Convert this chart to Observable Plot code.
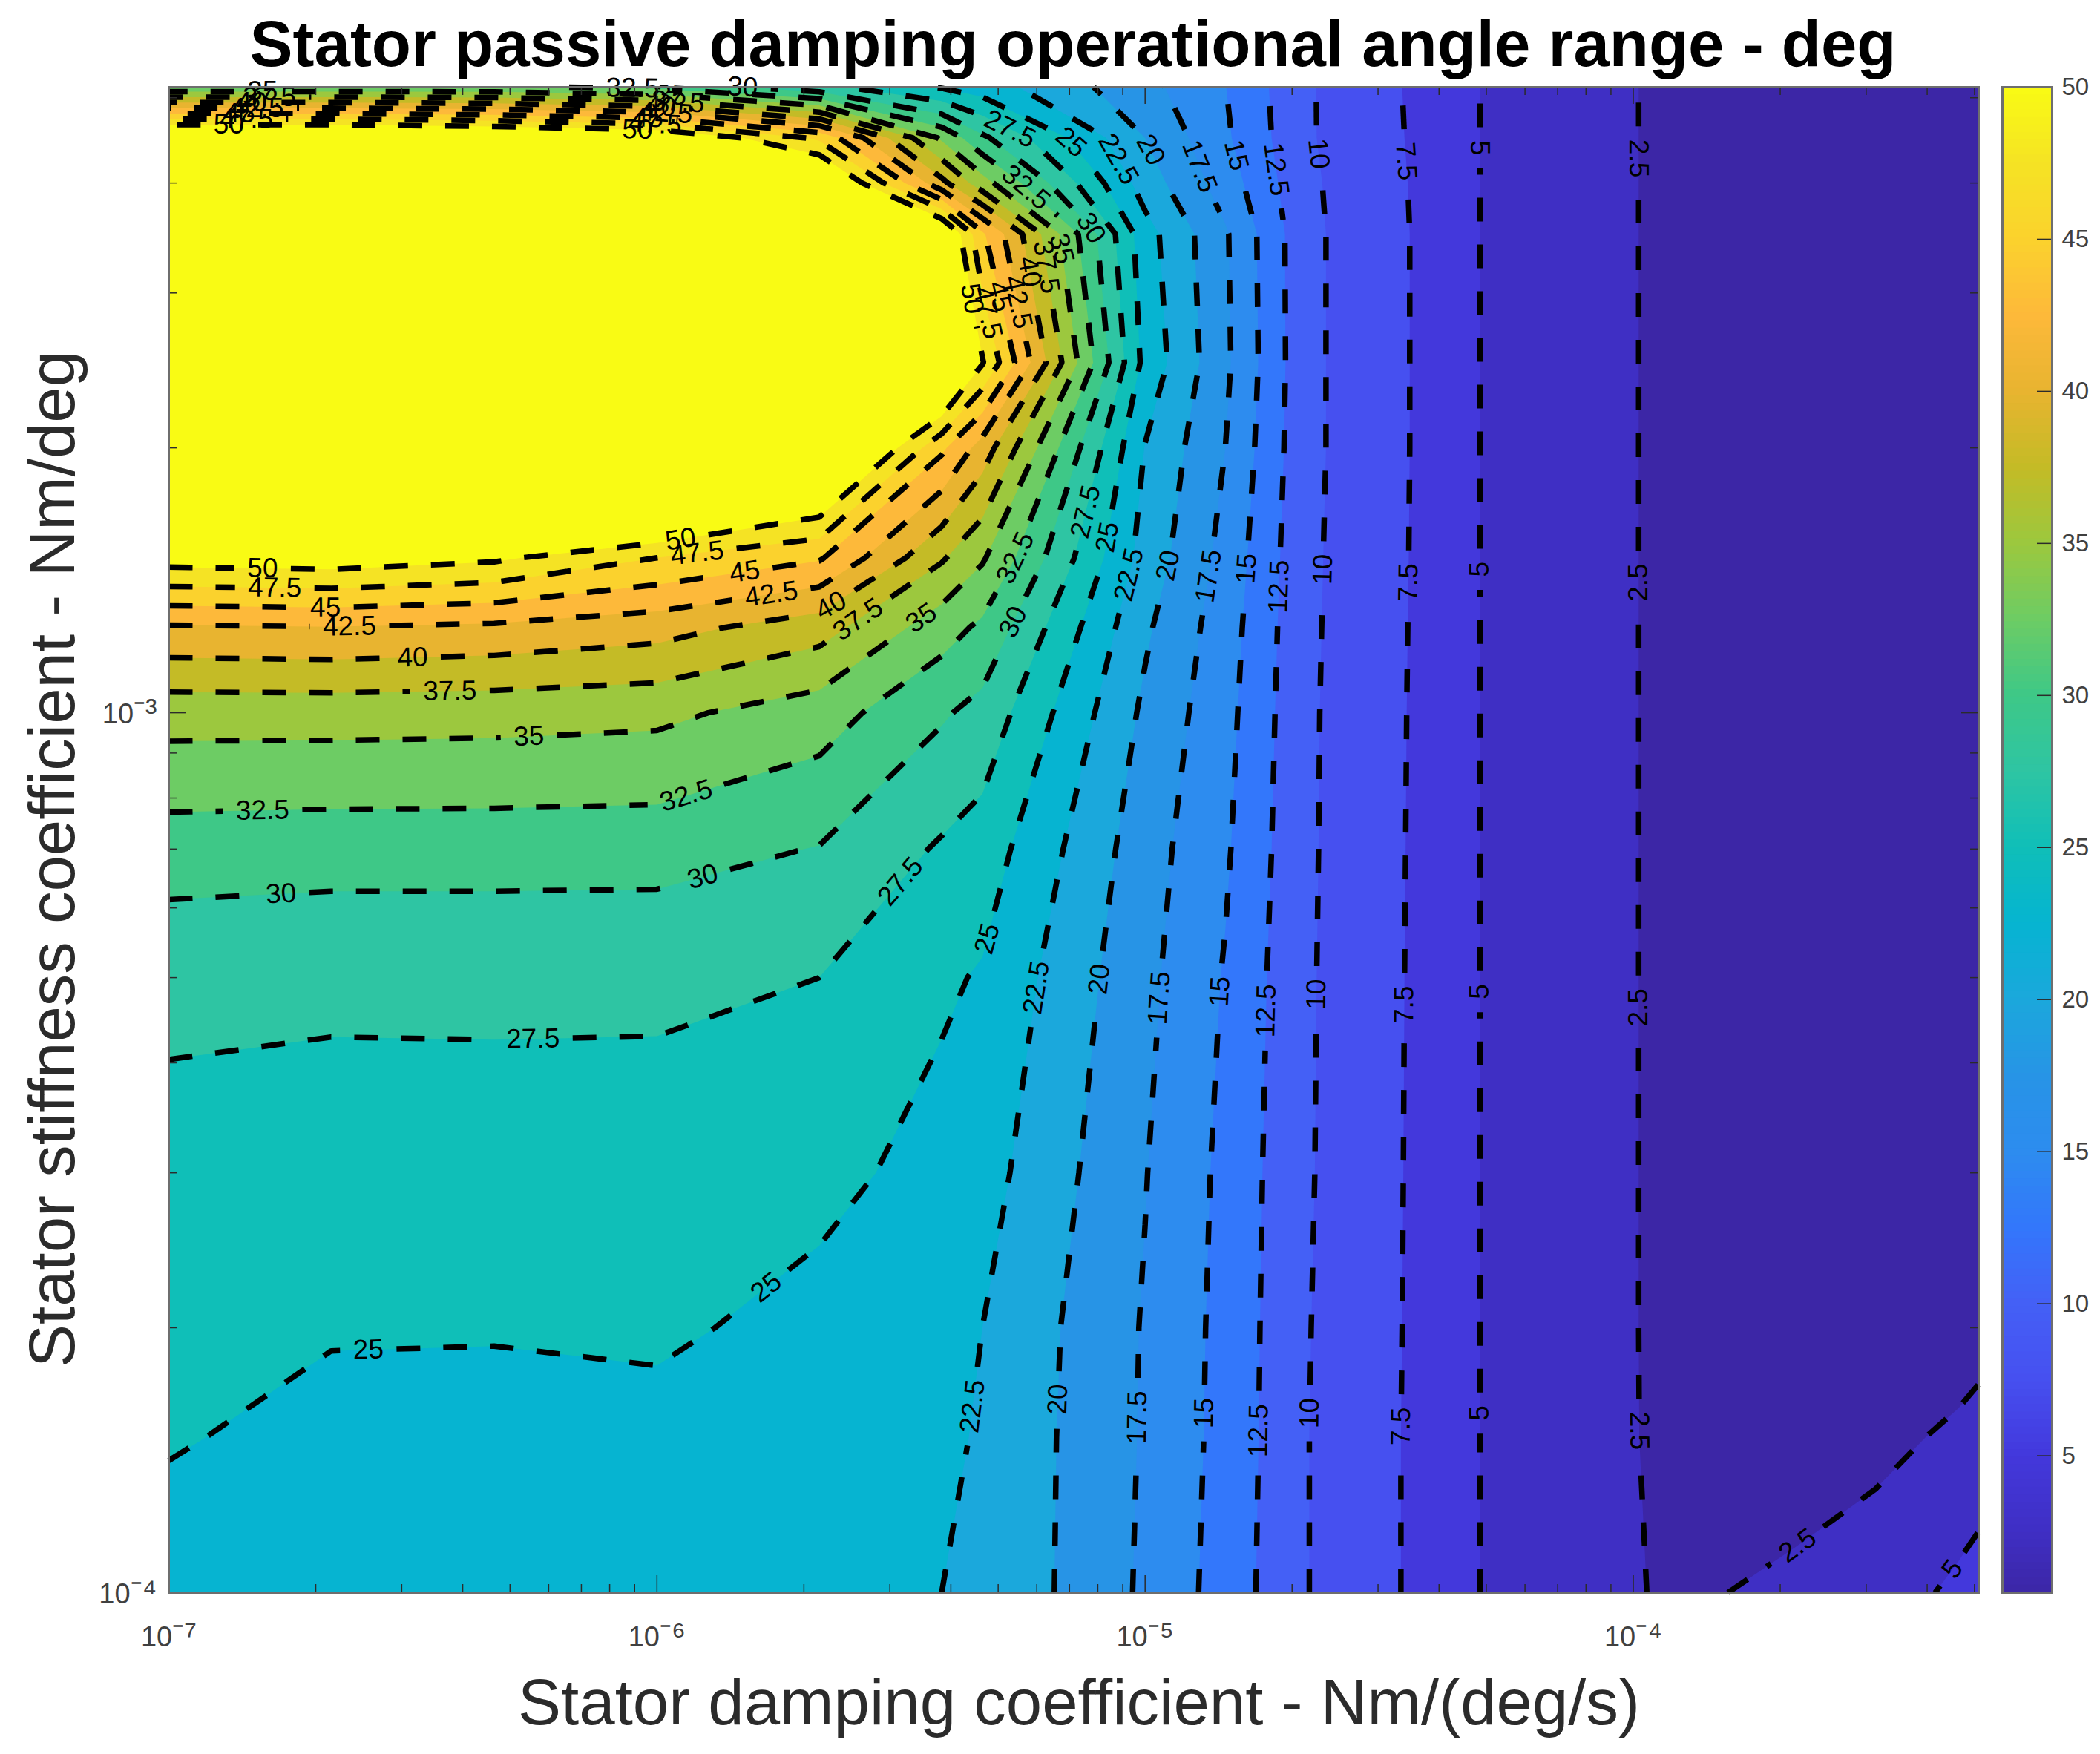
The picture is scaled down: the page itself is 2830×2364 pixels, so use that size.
<!DOCTYPE html>
<html><head><meta charset="utf-8">
<script src="https://cdn.jsdelivr.net/npm/d3@7"></script>
<script src="https://cdn.jsdelivr.net/npm/@observablehq/plot@0.6"></script>
<style>
html,body{margin:0;padding:0;background:#fff}
#fig{position:relative;width:2830px;height:2364px;font-family:"Liberation Sans",Arial,sans-serif}
#title{height:90px;width:2680px;text-align:center;font-weight:bold;font-size:87px;line-height:118px;color:#000;white-space:nowrap;overflow:visible;transform:translateX(106px)}
#plots{display:flex}
svg{display:block}
</style></head><body>
<div id="fig"><div id="title">Stator passive damping operational angle range - deg</div><div id="plots"></div></div>
<script>
// grid axes
const damping=[1e-7,2.15e-7,4.64e-7,1e-6,2.15e-6,3.83e-6,4.64e-6,1e-5,1.46e-5,2.15e-5,3.16e-5,4.64e-5,1e-4,1.29e-4,2.15e-4,3.13e-4,4.64e-4,5.1e-4];
const stiffness=[1e-4,1.5e-4,2e-4,3e-4,5e-4,7e-4,1e-3,1.25e-3,1.5e-3,2e-3,2.5e-3,3.5e-3,4e-3,4.5e-3,5.14e-3];
// angle range values, one row per stiffness (bottom to top)
const angleRange=[
[23.5,23.0,22.95,23.0,24.2,22.5,22.3,17.1,13.95,10.05,7.9,5.15,2.55,2.35,2.75,3.6,5.55,6.05],
[25.26,24.1,24.0,24.05,24.3,22.9,22.3,17.25,14.17,10.05,7.9,5.15,2.55,2.1,1.9,1.95,2.87,3.4],
[25.8,25.24,25.2,25.5,24.1,23.2,22.5,17.3,14.25,10.1,7.95,5.15,2.55,2.05,1.6,1.45,1.5,1.55],
[26.6,26.7,26.75,26.8,25.8,24.07,23.5,17.6,14.4,10.2,8.0,5.15,2.55,2.05,1.6,1.45,1.3,1.25],
[28.15,27.85,27.85,27.8,27.5,25.43,24.75,18.15,14.8,10.25,8.05,5.15,2.55,2.05,1.6,1.45,1.3,1.25],
[31.2,31.05,31.05,31.0,29.9,27.2,26.35,18.6,15.34,10.3,8.1,5.15,2.55,2.05,1.6,1.45,1.3,1.25],
[36,36,35.9,35.6,33.7,30.3,29.2,19.5,15.83,10.33,8.15,5.15,2.55,2.05,1.6,1.45,1.3,1.25],
[42.2,42.4,42,41,38.6,33.6,32,20.4,16.2,10.38,8.2,5.15,2.55,2.05,1.6,1.45,1.3,1.25],
[51.2,51.5,50.5,47.5,45.3,37.8,35.3,21.5,16.67,10.42,8.25,5.15,2.55,2.05,1.6,1.45,1.3,1.25],
[80,80,75,66,58,45.5,41.4,22.4,17.5,10.5,8.3,5.15,2.55,2.05,1.6,1.45,1.3,1.25],
[80,80,80,80,80,57.6,50.2,24.2,18.0,10.5,8.3,5.15,2.55,2.05,1.6,1.45,1.3,1.25],
[80,80,80,80,80,54,45.4,23.5,17.8,10.5,8.3,5.15,2.55,2.05,1.6,1.45,1.3,1.25],
[80,80,80,80,55,40.7,36,21.3,16.3,10.4,8.2,5.15,2.55,2.05,1.6,1.45,1.3,1.25],
[56,56,55,53.4,47,34.6,30.5,20,15.4,10.25,8.05,5.15,2.55,2.05,1.6,1.45,1.3,1.25],
[33,33,33,31.9,28.3,24.8,23.7,18.3,15.05,10.25,7.95,5.15,2.55,2.05,1.6,1.45,1.3,1.25]];
const levels=[2.5,5,7.5,10,12.5,15,17.5,20,22.5,25,27.5,30,32.5,35,37.5,40,42.5,45,47.5,50];
// colour anchors
const colorLevels=[0.5,2.5,5,7.5,10,12.5,15,17.5,20,22.5,25,27.5,30,32.5,35,37.5,40,42.5,45,47.5,50];
const colorValues=["#3c26a6","#3f2fc4","#4338dc","#4650f0","#4460f6","#3377fb","#2d8cef","#2794e6","#1ba8dc","#06b4d1","#0fbfb8","#2ec5a3","#3ec887","#6dcc64","#9cc83e","#c4bb26","#e8b430","#fdb93a","#fbd22d","#f5e324","#f9fb14"];
// contour labels: level, log10 damping, log10 stiffness
const labelLevel=[25,25,25,27.5,27.5,30,30,32.5,32.5,35,35,37.5,37.5,40,40,42.5,42.5,45,45,47.5,47.5,50,50,
32.5,30,27.5,25,22.5,20,17.5,15,12.5,10,7.5,5,2.5,
22.5,20,17.5,15,12.5,10,7.5,5,2.5,
22.5,20,17.5,15,12.5,10,7.5,5,2.5,2.5,5,
10,7.5,5,2.5,12.5,15,17.5,20,22.5,25,27.5,
32.5,30,35,37.5,40,42.5,45,47.5,50,
50,47.5,45,42.5,40,37.5,35,50,47.5,45,42.5,40,37.5,35,32.5,30];
const labelLogX=[-6.591,-5.768,-5.329,-6.254,-5.486,-6.770,-5.905,-6.808,-5.944,-6.262,-5.453,-6.424,-5.593,-6.501,-5.645,-6.630,-5.765,-6.679,-5.818,-6.783,-5.914,-6.808,-5.947,
-5.261,-5.255,-5.096,-5.071,-5.019,-4.973,-4.866,-4.775,-4.706,-4.638,-4.449,-4.314,-3.993,
-5.203,-5.074,-4.975,-4.844,-4.734,-4.649,-4.462,-4.314,-3.993,
-5.357,-5.151,-5.016,-4.877,-4.753,-4.657,-4.471,-4.317,-4.001,-3.642,-3.340,
-4.649,-4.460,-4.322,-4.001,-4.717,-4.797,-4.888,-4.995,-5.071,-5.162,-5.274,
-5.233,-5.099,-5.162,-5.197,-5.239,-5.283,-5.324,-5.354,-5.359,
-6.877,-6.841,-6.855,-6.819,-6.830,-6.794,-6.808,-6.040,-6.004,-6.018,-5.982,-5.993,-5.957,-5.971,-6.050,-5.924];
const labelLogY=[-3.731,-3.659,-3.256,-3.371,-3.199,-3.207,-3.189,-3.107,-3.088,-3.030,-2.897,-2.979,-2.890,-2.932,-2.877,-2.901,-2.868,-2.877,-2.848,-2.855,-2.836,-2.837,-2.819,
-2.825,-2.901,-2.775,-2.801,-2.845,-2.830,-2.845,-2.837,-2.857,-2.837,-2.852,-2.837,-2.852,
-3.314,-3.304,-3.324,-3.317,-3.339,-3.320,-3.332,-3.317,-3.335,
-3.788,-3.781,-3.801,-3.796,-3.816,-3.796,-3.811,-3.796,-3.816,-3.963,-3.976,
-2.365,-2.373,-2.358,-2.370,-2.381,-2.364,-2.379,-2.362,-2.376,-2.356,-2.333,
-2.396,-2.443,-2.472,-2.493,-2.499,-2.536,-2.530,-2.549,-2.530,
-2.330,-2.327,-2.319,-2.316,-2.311,-2.307,-2.301,-2.336,-2.333,-2.327,-2.321,-2.316,-2.308,-2.301,-2.290,-2.290];
const xMajor=[1e-7,1e-6,1e-5,1e-4];
const xMinor=[2e-7,3e-7,4e-7,5e-7,6e-7,7e-7,8e-7,9e-7,2e-6,3e-6,4e-6,5e-6,6e-6,7e-6,8e-6,9e-6,2e-5,3e-5,4e-5,5e-5,6e-5,7e-5,8e-5,9e-5,2e-4,3e-4,4e-4,5e-4];
const yMajor=[1e-4,1e-3];
const yMinor=[2e-4,3e-4,4e-4,5e-4,6e-4,7e-4,8e-4,9e-4,2e-3,3e-3,4e-3,5e-3];
const xTickText=["10⁻⁷","10⁻⁶","10⁻⁵","10⁻⁴"];
const yTickText=["10⁻⁴","10⁻³"];
const barTicks=[5,10,15,20,25,30,35,40,45,50];

// frame geometry
const W=2680,H=2274,mL=227,mR=14,mT=27,mB=218;
const fw=W-mL-mR,fh=H-mT-mB;
const xDom=[1e-7,5.1e-4],yDom=[1e-4,5.14e-3];
const lx0=Math.log10(xDom[0]),ly1=Math.log10(yDom[1]);
const kx=fw/(Math.log10(xDom[1])-lx0),ky=fh/(ly1-Math.log10(yDom[0]));
const n=damping.length,m=stiffness.length;
const toU=i=>{const a=Math.max(0,Math.min(n-1,i)),f=Math.floor(a),g=Math.min(n-1,f+1);return (Math.log10(damping[f])+(Math.log10(damping[g])-Math.log10(damping[f]))*(a-f)-lx0)*kx};
const toV=j=>{const a=Math.max(0,Math.min(m-1,j)),f=Math.floor(a),g=Math.min(m-1,f+1);return (ly1-(Math.log10(stiffness[f])+(Math.log10(stiffness[g])-Math.log10(stiffness[f]))*(a-f)))*ky};
const dataX=u=>10**(lx0+u/kx),dataY=v=>10**(ly1-v/ky);

// filled regions and isolines from the grid
const flat=angleRange.flat();
const polys=d3.contours().size([n,m]).thresholds(levels)(flat);
const regionPts=[],lines=[];
let rid=0;
for(const c of polys){
  for(const poly of c.coordinates){
    const ring=poly[0].map(([a,b])=>[a-.5,b-.5]).map(([a,b])=>[Math.max(0,Math.min(n-1,a)),Math.max(0,Math.min(m-1,b))]);
    rid++;
    for(const [a,b] of ring) regionPts.push({x:dataX(toU(a)),y:dataY(toV(b)),level:c.value,ring:rid});
    // split the ring at the frame
    const onB=(p,q)=>(p[0]===0&&q[0]===0)||(p[0]===n-1&&q[0]===n-1)||(p[1]===0&&q[1]===0)||(p[1]===m-1&&q[1]===m-1);
    const N=ring.length-1;
    let start=-1;
    for(let i=0;i<N;i++) if(onB(ring[i],ring[i+1])){start=i+1;break;}
    if(start<0){lines.push({level:c.value,pts:ring.map(([a,b])=>[toU(a),toV(b)])});continue;}
    let cur=[];
    for(let k=0;k<N;k++){
      const p=ring[(start+k)%N],q=ring[(start+k+1)%N];
      cur.push(p);
      if(onB(p,q)){ if(cur.length>1) lines.push({level:c.value,pts:cur.map(([a,b])=>[toU(a),toV(b)])}); cur=[]; }
    }
    if(cur.length>1) lines.push({level:c.value,pts:cur.map(([a,b])=>[toU(a),toV(b)])});
  }
}
// every isoline runs from its lower end upward
for(const l of lines){
  if(l.pts[0][1]<l.pts[l.pts.length-1][1]) l.pts.reverse();
  l.cum=[0];
  for(let i=1;i<l.pts.length;i++) l.cum.push(l.cum[i-1]+Math.hypot(l.pts[i][0]-l.pts[i-1][0],l.pts[i][1]-l.pts[i-1][1]));
  l.gaps=[];
}
const pointAt=(l,s)=>{
  s=Math.max(0,Math.min(l.cum[l.cum.length-1],s));
  let i=d3.bisectRight(l.cum,s)-1; if(i>=l.pts.length-1)i=l.pts.length-2;
  const d=l.cum[i+1]-l.cum[i],t=d?(s-l.cum[i])/d:0;
  return [l.pts[i][0]+(l.pts[i+1][0]-l.pts[i][0])*t,l.pts[i][1]+(l.pts[i+1][1]-l.pts[i][1])*t];
};
// snap each label to its isoline
const labels=labelLevel.map((lev,idx)=>{
  const u=(labelLogX[idx]-lx0)*kx,v=(ly1-labelLogY[idx])*ky;
  let best=null;
  for(const l of lines){ if(l.level!==lev) continue;
    for(let i=0;i<l.pts.length-1;i++){
      const a=l.pts[i],b=l.pts[i+1],dx=b[0]-a[0],dy=b[1]-a[1],L2=dx*dx+dy*dy||1;
      const t=Math.max(0,Math.min(1,((u-a[0])*dx+(v-a[1])*dy)/L2));
      const px=a[0]+dx*t,py=a[1]+dy*t,d=Math.hypot(px-u,py-v);
      if(!best||d<best.d) best={d,l,s:l.cum[i]+t*(l.cum[i+1]-l.cum[i]),px,py};
    }
  }
  if(!best) return null;
  const p0=pointAt(best.l,best.s-30),p1=pointAt(best.l,best.s+30);
  let ang=Math.atan2(p1[1]-p0[1],p1[0]-p0[0])*180/Math.PI;
  if(ang>90)ang-=180; if(ang<=-90)ang+=180;
  // the steep labels below the nose read upward, except the lowest 2.5
  if(labelLogY[idx]<-2.55&&ang>60) ang-=180;
  if(lev===2.5&&labelLogY[idx]===-3.816&&ang<0) ang+=180;
  const txt=String(lev);
  const tw=(txt.replace(".","").length*.556+(txt.includes(".")?.278:0))*37;
  best.l.gaps.push([best.s-(tw+35)/2,best.s+(tw+35)/2]);
  return {x:dataX(best.px),y:dataY(best.py),text:txt,rotate:ang};
}).filter(Boolean);
// cut isolines at the labels
const linePts=[];let pid=0;
for(const l of lines){
  const total=l.cum[l.cum.length-1];
  const gaps=l.gaps.sort((a,b)=>a[0]-b[0]);
  const ranges=[];let s=0;
  for(const g of gaps){ if(g[0]>s) ranges.push([s,g[0]]); s=Math.max(s,g[1]); }
  if(s<total) ranges.push([s,total]);
  for(const [a,b] of ranges){
    pid++;
    const ss=[a,...l.cum.filter(c=>c>a&&c<b),b];
    for(const q of ss){const p=pointAt(l,q);linePts.push({x:dataX(p[0]),y:dataY(p[1]),piece:pid});}
  }
}
const colorScale={type:"linear",domain:colorLevels,range:colorValues,clamp:true};
const dark="#2b2b2b",tickCol="#2b2b2b";
const main=Plot.plot({
  width:W,height:H,marginLeft:mL,marginRight:mR,marginTop:mT,marginBottom:mB,
  style:{background:"#fff",fontFamily:'"Liberation Sans",Arial,sans-serif',overflow:"visible"},
  x:{type:"log",domain:xDom,axis:null},
  y:{type:"log",domain:yDom,axis:null},
  color:colorScale,
  marks:[
    Plot.frame({fill:colorValues[0],stroke:"none"}),
    Plot.line(regionPts,{x:"x",y:"y",z:"ring",fill:"level",stroke:"none",curve:"linear"}),
    Plot.line(linePts,{x:"x",y:"y",z:"piece",stroke:"#000",strokeWidth:7.5,strokeDasharray:"32,31",strokeLinecap:"butt",strokeLinejoin:"miter",curve:"linear"}),
    Plot.text(labels,{x:"x",y:"y",text:"text",rotate:"rotate",fontSize:37,fill:"#000",textAnchor:"middle",lineAnchor:"middle"}),
    Plot.ruleX(xMinor,{x:d=>d,insetTop:fh-11,stroke:tickCol,strokeWidth:1.5}),
    Plot.ruleX(xMajor,{x:d=>d,insetTop:fh-23,stroke:tickCol,strokeWidth:1.5}),
    Plot.ruleX(xMinor,{x:d=>d,insetBottom:fh-11,stroke:tickCol,strokeWidth:1.5}),
    Plot.ruleX(xMajor,{x:d=>d,insetBottom:fh-23,stroke:tickCol,strokeWidth:1.5}),
    Plot.ruleY(yMinor,{y:d=>d,insetRight:fw-11,stroke:tickCol,strokeWidth:1.5}),
    Plot.ruleY(yMajor,{y:d=>d,insetRight:fw-23,stroke:tickCol,strokeWidth:1.5}),
    Plot.ruleY(yMinor,{y:d=>d,insetLeft:fw-11,stroke:tickCol,strokeWidth:1.5}),
    Plot.ruleY(yMajor,{y:d=>d,insetLeft:fw-23,stroke:tickCol,strokeWidth:1.5}),
    Plot.frame({stroke:"#6e6e6e",strokeWidth:3,fill:"none"}),
    Plot.text(xMajor,{x:d=>d,text:(d,i)=>xTickText[i],frameAnchor:"bottom",dy:60,fontSize:38,fill:"#404040",textAnchor:"middle",lineAnchor:"middle"}),
    Plot.text(yMajor,{y:d=>d,text:(d,i)=>yTickText[i],frameAnchor:"left",dx:-16,dy:2,fontSize:38,fill:"#404040",textAnchor:"end",lineAnchor:"middle"}),
    Plot.text(["Stator damping coefficient - Nm/(deg/s)"],{frameAnchor:"bottom",dy:150,dx:7,fontSize:87,fill:dark,textAnchor:"middle",lineAnchor:"middle"}),
    Plot.text(["Stator stiffness coefficient - Nm/deg"],{frameAnchor:"left",dx:-155,dy:26,rotate:-90,fontSize:87,fill:dark,textAnchor:"middle",lineAnchor:"middle"})
  ]
});
const barN=200,barStep=49.5/barN;
const barVals=d3.range(barN).map(i=>0.5+i*barStep);
const bar=Plot.plot({
  width:150,height:H,marginLeft:18,marginRight:65,marginTop:mT,marginBottom:mB,
  style:{background:"#fff",fontFamily:'"Liberation Sans",Arial,sans-serif',overflow:"visible"},
  x:{domain:[0,1],axis:null},
  y:{domain:[0.5,50],axis:null},
  color:colorScale,
  marks:[
    Plot.rect(barVals,{x1:0,x2:1,y1:d=>d,y2:d=>Math.min(50,d+barStep*1.5),fill:d=>d+barStep/2}),
    Plot.ruleY(barTicks.slice(0,-1),{y:d=>d,insetLeft:47,stroke:tickCol,strokeWidth:1.5}),
    Plot.frame({stroke:"#6e6e6e",strokeWidth:3,fill:"none"}),
    Plot.text(barTicks,{y:d=>d,text:d=>String(d),frameAnchor:"right",dx:13,fontSize:33,fill:"#404040",textAnchor:"start",lineAnchor:"middle"})
  ]
});
document.getElementById("plots").append(main,bar);
// enlarge the superscript part of the power-of-ten tick labels, keeping the text as it is
main.querySelectorAll("text").forEach(t=>{
  const s=t.textContent;
  if(/^10⁻./.test(s)){
    const sp=t.querySelector("tspan")||t;
    sp.textContent="10";
    const e=document.createElementNS("http://www.w3.org/2000/svg","tspan");
    e.setAttribute("font-size","1.22em");
    e.textContent=s.slice(2);
    sp.appendChild(e);
  }
});
</script>
</body></html>
